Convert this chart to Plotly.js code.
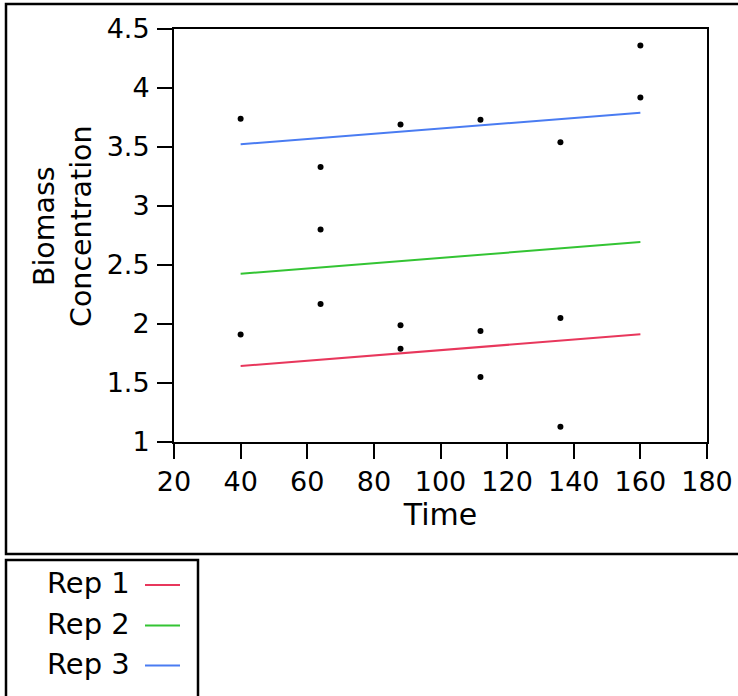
<!DOCTYPE html>
<html>
<head>
<meta charset="utf-8">
<script src="https://cdn.plot.ly/plotly-3.0.1.min.js"></script>
<style>
  html, body { margin: 0; padding: 0; background: #fff; }
  #chart { width: 738px; height: 696px; }
</style>
</head>
<body>
<div id="chart"></div>
<script>
// Observed biomass concentration at each sampling time
const obsTime = [40, 40, 64, 64, 64, 88, 88, 88, 112, 112, 112, 136, 136, 136, 160, 160];
const obsBiomass = [3.74, 1.91, 3.33, 2.80, 2.17, 3.69, 1.99, 1.79, 3.73, 1.94, 1.55, 3.54, 2.05, 1.13, 4.36, 3.92];

// Fitted lines per replicate
const repNames = ["Rep 1", "Rep 2", "Rep 3"];
const repColors = ["#e8375c", "#33c433", "#4a7cf2"];
const fitTime = [40, 160];
const rep1Fit = [1.644, 1.913];
const rep2Fit = [2.426, 2.694];
const rep3Fit = [3.523, 3.791];
const repFits = [rep1Fit, rep2Fit, rep3Fit];

const xTicks = [20, 40, 60, 80, 100, 120, 140, 160, 180];
const yTicks = [1, 1.5, 2, 2.5, 3, 3.5, 4, 4.5];

const FONT = "DejaVu Sans, Verdana, sans-serif";

const traces = repFits.map((vals, i) => ({
  type: "scatter",
  mode: "lines",
  x: fitTime,
  y: vals,
  name: repNames[i],
  line: { color: repColors[i], width: 2 },
  showlegend: false,
  hoverinfo: "skip"
}));

traces.push({
  type: "scatter",
  mode: "markers",
  x: obsTime,
  y: obsBiomass,
  marker: { color: "#000", size: 6 },
  showlegend: false
});

// Plot area spans x 174..707, y 29..442 in page pixels
const shapes = [
  // outer report frame
  { type: "rect", xref: "paper", yref: "paper",
    xsizemode: "pixel", ysizemode: "pixel", xanchor: 0, yanchor: 0,
    x0: -168, x1: 570, y0: -112, y1: 438,
    line: { color: "#000", width: 2.5 } },
  // legend frame
  { type: "rect", xref: "paper", yref: "paper",
    xsizemode: "pixel", ysizemode: "pixel", xanchor: 0, yanchor: 0,
    x0: -168, x1: 24, y0: -262, y1: -118,
    line: { color: "#000", width: 2.5 } }
];

const annotations = [
  // y axis title, two centred lines
  { xref: "paper", yref: "paper", x: 0, y: 0,
    xshift: -111, yshift: 216,
    xanchor: "center", yanchor: "middle",
    textangle: -90,
    text: "Biomass<br>Concentration", showarrow: false,
    font: { family: FONT, size: 28.5, color: "#000" } }
];

const legendRows = [585, 625.5, 665.5];
repNames.forEach((name, i) => {
  const dy = 442 - legendRows[i];
  shapes.push({
    type: "line", xref: "paper", yref: "paper",
    xsizemode: "pixel", ysizemode: "pixel", xanchor: 0, yanchor: 0,
    x0: -29, x1: 6, y0: dy, y1: dy,
    line: { color: repColors[i], width: 2 }
  });
  annotations.push({
    xref: "paper", yref: "paper", x: 0, y: 0,
    xshift: -42, yshift: dy + 2,
    xanchor: "right", yanchor: "middle",
    text: name, showarrow: false,
    font: { family: FONT, size: 29, color: "#000" }
  });
});

const axisCommon = {
  showgrid: false,
  zeroline: false,
  showline: true,
  mirror: true,
  linecolor: "#000",
  linewidth: 2,
  ticks: "outside",
  ticklen: 15,
  tickwidth: 2,
  tickcolor: "#000",
  tickfont: { family: FONT, size: 27, color: "#000" },
  automargin: false
};

const layout = {
  width: 738,
  height: 696,
  margin: { l: 174, r: 31, t: 29, b: 254 },
  paper_bgcolor: "#fff",
  plot_bgcolor: "#fff",
  showlegend: false,
  xaxis: Object.assign({}, axisCommon, {
    range: [20, 180],
    tickvals: xTicks,
    ticktext: xTicks.map(String),
    title: { text: "Time", font: { family: FONT, size: 30, color: "#000" }, standoff: 6 }
  }),
  yaxis: Object.assign({}, axisCommon, {
    range: [1, 4.5],
    tickvals: yTicks,
    ticktext: yTicks.map(String),
    ticklabelstandoff: 2
  }),
  shapes: shapes,
  annotations: annotations
};

Plotly.newPlot("chart", traces, layout, { staticPlot: true, displayModeBar: false });
</script>
</body>
</html>
